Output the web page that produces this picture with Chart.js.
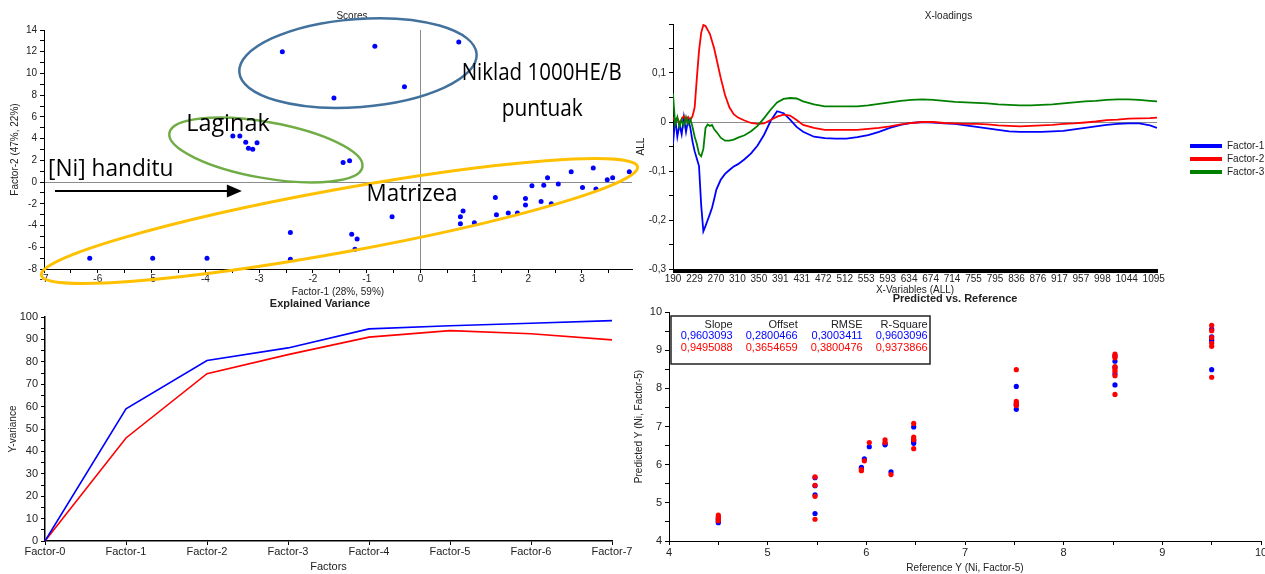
<!DOCTYPE html>
<html>
<head>
<meta charset="utf-8">
<title>PLS Ni</title>
<script src="https://cdn.jsdelivr.net/npm/chart.js@4.4.1/dist/chart.umd.min.js"></script>
<style>
  html, body { margin: 0; padding: 0; background: #fff; overflow: hidden; }
  body { width: 1265px; height: 574px; position: relative; }
  canvas { position: absolute; }
  #scores { left: 0; top: 0; z-index: 2; }
  #loadings { left: 632px; top: 0; z-index: 3; }
  #variance { left: 0; top: 296px; z-index: 1; }
  #predicted { left: 630px; top: 288px; z-index: 1; }
</style>
</head>
<body>
<canvas id="scores" width="704" height="298"></canvas>
<canvas id="loadings" width="633" height="296"></canvas>
<canvas id="variance" width="640" height="278"></canvas>
<canvas id="predicted" width="650" height="286"></canvas>

<script>
// --- Scores (Factor-1 / Factor-2) ---
const scoreF1 = [-2.57, -0.85, 0.71, -0.30, -1.61, -3.49, -3.36, -3.25, -3.04, -3.20, -3.12, -1.44, -1.32,
  -6.15, -4.98, -3.97, -2.42, -2.42, -1.28, -1.18, -1.22, -0.53,
  0.74, 0.79, 0.74, 1.00, 1.39, 1.41, 1.63, 1.80, 1.95, 1.95, 2.07, 2.24, 2.29, 2.36, 2.43, 2.56,
  2.80, 3.01, 3.21, 3.26, 3.47, 3.57, 3.88];
const scoreF2 = [12.0, 12.5, 12.9, 8.78, 7.74, 4.25, 4.25, 3.67, 3.61, 3.12, 3.03, 1.80, 1.96,
  -7.0, -7.0, -7.0, -4.65, -7.1, -4.8, -5.23, -6.18, -3.2,
  -3.19, -2.67, -3.83, -3.74, -1.41, -3.00, -2.85, -2.85, -1.50, -2.12, -0.34, -1.78, -0.28, 0.40, -1.99, -0.18,
  0.95, -0.49, 1.29, -0.64, 0.21, 0.40, 0.95];

// --- X-loadings: x in variable-block units, one value list per factor ---
const loadTickLabels = ['190', '229', '270', '310', '350', '391', '431', '472', '512', '553', '593', '634',
  '674', '714', '755', '795', '836', '876', '917', '957', '998', '1044', '1095'];
const loadTickPos = [0, 0.99, 1.98, 2.97, 3.96, 4.95, 5.94, 6.93, 7.92, 8.91, 9.9, 10.89,
  11.88, 12.87, 13.86, 14.85, 15.84, 16.83, 17.82, 18.81, 19.8, 20.92, 22.17];
const loadPos = [0, 0.1, 0.2, 0.3, 0.4, 0.5, 0.6, 0.7, 0.8, 0.9, 1.0, 1.1, 1.2, 1.3, 1.4, 1.5, 1.6, 1.7, 1.8, 1.9, 2.0,
  2.2, 2.4, 2.6, 2.8, 3.0, 3.3, 3.6, 3.9, 4.2, 4.5, 4.8, 5.1, 5.4, 5.7, 6.0,
  6.5, 7.0, 7.5, 8.0, 8.5, 9.0, 9.5, 10.0, 10.5, 11.0, 11.5, 12.0, 12.5, 13.0, 13.5, 14.0, 14.5, 15.0,
  15.5, 16.0, 16.5, 17.0, 17.5, 18.0, 18.5, 19.0, 19.5, 20.0, 20.5, 21.0, 21.5, 22.0, 22.32];
const loadF1 = [-0.045, 0.008, -0.03, -0.005, -0.025, 0.01, -0.02, 0.005, -0.012, -0.04, -0.06, -0.075, -0.09, -0.17,
  -0.223, -0.212, -0.2, -0.188, -0.175, -0.157, -0.138,
  -0.118, -0.106, -0.098, -0.091, -0.086, -0.076, -0.064, -0.048, -0.026, 0.002, 0.022, 0.018, 0.005, -0.010, -0.020,
  -0.030, -0.033, -0.034, -0.034, -0.031, -0.027, -0.020, -0.012, -0.006, -0.002, 0.000, -0.001, -0.003, -0.004,
  -0.007, -0.010, -0.013, -0.016, -0.019, -0.020, -0.020, -0.020, -0.019, -0.018, -0.015, -0.012, -0.009, -0.006,
  -0.004, -0.003, -0.003, -0.007, -0.012];
const loadF2 = [0.01, 0.0, 0.008, -0.004, 0.006, 0.012, 0.002, 0.01, 0.004, 0.012, 0.03, 0.09, 0.145, 0.182,
  0.198, 0.196, 0.188, 0.18, 0.165, 0.15, 0.13,
  0.09, 0.055, 0.03, 0.016, 0.009, 0.003, -0.002, -0.004, -0.003, 0.004, 0.011, 0.015, 0.013, 0.004, -0.006,
  -0.012, -0.016, -0.016, -0.016, -0.016, -0.014, -0.012, -0.009, -0.005, -0.002, 0.000, 0.000, -0.002, -0.003,
  -0.004, -0.004, -0.005, -0.007, -0.008, -0.009, -0.008, -0.007, -0.006, -0.004, -0.003, -0.001, 0.001, 0.004,
  0.005, 0.007, 0.0075, 0.008, 0.009];
const loadF3 = [0.058, -0.005, 0.01, -0.01, 0.005, -0.008, 0.01, -0.004, 0.006, -0.01, -0.03, -0.045, -0.065, -0.07,
  -0.055, -0.012, -0.005, -0.008, -0.006, -0.015, -0.02,
  -0.032, -0.038, -0.038, -0.036, -0.032, -0.027, -0.019, -0.008, 0.008, 0.025, 0.040, 0.047, 0.049, 0.048, 0.042,
  0.036, 0.032, 0.032, 0.032, 0.032, 0.034, 0.037, 0.040, 0.043, 0.045, 0.046, 0.045, 0.043, 0.041,
  0.040, 0.039, 0.038, 0.036, 0.035, 0.034, 0.034, 0.035, 0.036, 0.038, 0.040, 0.042, 0.043, 0.045,
  0.046, 0.046, 0.045, 0.043, 0.042];

// --- Explained variance ---
const factorNames = ['Factor-0', 'Factor-1', 'Factor-2', 'Factor-3', 'Factor-4', 'Factor-5', 'Factor-6', 'Factor-7'];
const varCalibration = [0, 59, 80.6, 86.2, 94.7, 96.1, 97.2, 98.4];
const varValidation = [0, 46, 74.7, 83.2, 91, 93.9, 92.5, 89.8];

// --- Predicted vs reference ---
const refBlue = [4.5, 4.5, 4.5, 4.5, 5.48, 5.48, 5.48, 5.48, 5.95, 5.95, 5.98, 6.03, 6.19, 6.19, 6.25,
  6.48, 6.48, 6.48, 6.48, 7.52, 7.52, 7.52, 7.52, 8.52, 8.52, 8.52, 8.52, 8.52, 9.5, 9.5, 9.5, 9.5, 9.5];
const predBlue = [4.48, 4.52, 4.57, 4.61, 4.72, 5.21, 5.45, 5.66, 5.90, 5.93, 6.15, 6.47, 6.52, 6.55, 5.81,
  6.99, 6.61, 6.56, 6.65, 8.05, 7.45, 7.60, 7.55, 8.71, 8.38, 8.09, 8.55, 8.85, 9.35, 9.24, 8.49, 9.55, 9.28];
const refRed = [4.5, 4.5, 4.5, 4.5, 5.48, 5.48, 5.48, 5.48, 5.95, 5.95, 5.98, 6.03, 6.19, 6.19, 6.25,
  6.48, 6.48, 6.48, 6.48, 7.52, 7.52, 7.52, 7.52, 8.52, 8.52, 8.52, 8.52, 8.52, 8.52, 8.52, 8.52,
  9.5, 9.5, 9.5, 9.5, 9.5, 9.5];
const predRed = [4.53, 4.58, 4.63, 4.68, 4.57, 5.17, 5.46, 5.68, 5.84, 5.87, 6.10, 6.58, 6.58, 6.65, 5.74,
  7.08, 6.72, 6.65, 6.42, 8.49, 7.66, 7.60, 7.55, 8.90, 8.85, 8.80, 8.57, 8.51, 8.45, 8.33, 7.84,
  9.65, 9.51, 9.33, 9.18, 9.10, 8.29];
const statHeader = ['Slope', 'Offset', 'RMSE', 'R-Square'];
const statBlue = ['0,9603093', '0,2800466', '0,3003411', '0,9603096'];
const statRed = ['0,9495088', '0,3654659', '0,3800476', '0,9373866'];

const FONT = "'Liberation Sans', Arial, sans-serif";
Chart.defaults.font.family = FONT;
Chart.defaults.color = '#222';
Chart.defaults.animation = false;
Chart.defaults.events = [];
Chart.defaults.plugins.legend.display = false;
Chart.defaults.plugins.tooltip.enabled = false;

function stepTicks(min, max, step) {
  const out = [];
  const n = Math.round((max - min) / step);
  for (let i = 0; i <= n; i++) out.push({ value: Math.round((min + i * step) * 10000) / 10000 });
  return out;
}

const isInt = v => Math.abs(v - Math.round(v)) < 1e-6;

// linear axis with minor ticks (blank labels), fixed box size, optional zero line
function linAxis(o) {
  return {
    type: 'linear',
    min: o.min,
    max: o.max,
    afterBuildTicks: s => {
      let t = stepTicks(o.min, o.tickMax ?? o.max, o.step);
      if (o.extraTicks) {
        // drop dense ticks that sit on a labelled one, so nothing is drawn twice
        t = t.filter(k => !o.extraTicks.some(v => Math.abs(v - k.value) < 1e-6))
          .concat(o.extraTicks.map(v => ({ value: v })))
          .sort((a, b) => a.value - b.value);
      }
      s.ticks = t;
    },
    afterFit: s => {
      if (o.width != null) s.width = o.width;
      if (o.height != null) s.height = o.height;
    },
    ticks: { autoSkip: false, maxRotation: 0, padding: o.pad ?? 3, font: { size: o.font ?? 10 }, color: '#222', callback: o.label },
    grid: {
      drawOnChartArea: !!o.zero,
      color: c => (o.zero && c.tick && Math.abs(c.tick.value) < 1e-9) ? '#8c8c8c' : 'rgba(0,0,0,0)',
      tickColor: '#000',
      tickLength: 4,
      lineWidth: 1
    },
    border: { display: true, color: '#000', width: o.border ?? 1 },
    title: { display: true, text: o.title, font: { size: o.titleSize ?? 10 }, color: '#222', padding: { top: o.titlePad, bottom: 0 } }
  };
}

// empty right-hand box: keeps the chart title centred on the whole panel
function spacerAxis(w) {
  return {
    type: 'linear',
    position: 'right',
    display: true,
    afterFit: s => { s.width = w; },
    grid: { display: false },
    ticks: { display: false },
    border: { display: false }
  };
}

function chartTitle(text, size, weight, top, bottom) {
  return { display: true, text, font: { size, weight }, color: '#222', padding: { top, bottom } };
}

// ellipses, labels and arrow on the score plot (centres in data units, radii in px)
const scoreEllipses = [
  { cx: -1.164, cy: 10.96, rx: 119, ry: 44, rot: -4.4, color: '#41719c', width: 2.5 },
  { cx: -2.875, cy: 2.95, rx: 98, ry: 28, rot: 10, color: '#70ad47', width: 2.5 },
  { cx: -1.508, cy: -3.58, rx: 303, ry: 31.5, rot: -10.3, color: '#ffc000', width: 3 }
];
const scoreNotes = [
  { text: 'Niklad 1000HE/B', x: 0.763, y: 9.40, w: 160 },
  { text: 'puntuak', x: 1.508, y: 6.07, w: 81 },
  { text: 'Laginak', x: -4.357, y: 4.70, w: 83.5 },
  { text: '[Ni] handitu', x: -6.926, y: 0.56, w: 125.5 },
  { text: 'Matrizea', x: -1.005, y: -1.77, w: 91 }
];
const scoreArrow = { x0: -6.796, x1: -3.322, y: -0.82 };

const scoreMarks = {
  id: 'scoreMarks',
  afterDatasetsDraw(chart) {
    const { ctx, scales: { x, y } } = chart;
    ctx.save();
    scoreEllipses.forEach(e => {
      ctx.beginPath();
      ctx.ellipse(x.getPixelForValue(e.cx), y.getPixelForValue(e.cy), e.rx, e.ry, e.rot * Math.PI / 180, 0, Math.PI * 2);
      ctx.strokeStyle = e.color;
      ctx.lineWidth = e.width;
      ctx.stroke();
    });
    ctx.fillStyle = '#000';
    ctx.font = "23px 'Open Sans', sans-serif";
    ctx.textBaseline = 'alphabetic';
    ctx.textAlign = 'left';
    scoreNotes.forEach(n => {
      const w = ctx.measureText(n.text).width;
      ctx.save();
      ctx.translate(x.getPixelForValue(n.x), y.getPixelForValue(n.y));
      ctx.scale(n.w / w, 1);
      ctx.fillText(n.text, 0, 0);
      ctx.restore();
    });
    const ax0 = x.getPixelForValue(scoreArrow.x0);
    const ax1 = x.getPixelForValue(scoreArrow.x1);
    const ay = y.getPixelForValue(scoreArrow.y);
    ctx.strokeStyle = '#000';
    ctx.lineWidth = 2;
    ctx.beginPath();
    ctx.moveTo(ax0, ay);
    ctx.lineTo(ax1 - 12, ay);
    ctx.stroke();
    ctx.beginPath();
    ctx.moveTo(ax1, ay);
    ctx.lineTo(ax1 - 15, ay - 6.5);
    ctx.lineTo(ax1 - 15, ay + 6.5);
    ctx.closePath();
    ctx.fill();
    ctx.restore();
  }
};

new Chart(document.getElementById('scores'), {
  type: 'scatter',
  data: {
    datasets: [{
      data: scoreF1.map((v, i) => ({ x: v, y: scoreF2[i] })),
      pointRadius: 2.5,
      backgroundColor: '#0000ff',
      borderWidth: 0
    }]
  },
  options: {
    responsive: false,
    layout: { padding: 0 },
    plugins: { title: chartTitle('Scores', 10, 'normal', 10, 8) },
    scales: {
      x: linAxis({ min: -7, max: 3.93, tickMax: 3.5, step: 0.5, zero: true, height: 29, pad: 0,
        label: v => isInt(v) ? String(Math.round(v)) : '', title: 'Factor-1 (28%, 59%)', titlePad: 1 }),
      y: linAxis({ min: -8, max: 14, step: 1, zero: true, width: 44,
        label: v => (isInt(v) && Math.round(v) % 2 === 0) ? String(Math.round(v)) : '', title: 'Factor-2 (47%, 22%)', titlePad: 9 }),
      right: spacerAxis(72)
    }
  },
  plugins: [scoreMarks]
});

// --- X-loadings ---
const loadColors = ['#0000ff', '#ff0000', '#008000'];
const loadSeries = [loadF1, loadF2, loadF3];

const sideLegend = {
  id: 'sideLegend',
  afterDraw(chart) {
    const { ctx, chartArea } = chart;
    ctx.save();
    ctx.font = '10px ' + FONT;
    ctx.textBaseline = 'middle';
    ctx.textAlign = 'left';
    chart.data.datasets.forEach((ds, i) => {
      const lx = chartArea.right + 33;
      const ly = chartArea.top + 122 + i * 13;
      ctx.fillStyle = ds.borderColor;
      ctx.fillRect(lx, ly - 2, 32, 4);
      ctx.fillStyle = '#222';
      ctx.fillText(ds.label, lx + 37, ly);
    });
    ctx.restore();
  }
};

const tickLabelAt = v => {
  const k = loadTickPos.findIndex(p => Math.abs(p - v) < 1e-6);
  return k >= 0 ? loadTickLabels[k] : '';
};

new Chart(document.getElementById('loadings'), {
  type: 'line',
  data: {
    datasets: loadSeries.map((s, k) => ({
      label: 'Factor-' + (k + 1),
      data: s.map((v, i) => ({ x: loadPos[i], y: v })),
      borderColor: loadColors[k],
      borderWidth: 1.8,
      pointRadius: 0,
      tension: 0,
      order: 3 - k
    }))
  },
  options: {
    responsive: false,
    layout: { padding: 0 },
    plugins: { title: chartTitle('X-loadings', 10, 'normal', 10, 2) },
    scales: {
      x: linAxis({ min: 0, max: 22.32, step: 0.04, height: 27, pad: 0, extraTicks: loadTickPos,
        label: tickLabelAt, title: 'X-Variables (ALL)', titlePad: 0 }),
      y: linAxis({ min: -0.3, max: 0.2, step: 0.05, zero: true, width: 41,
        label: v => {
          const t = v * 10;
          if (!isInt(t) || v > 0.15) return '';
          const r = Math.round(t);
          return r === 0 ? '0' : (r / 10).toFixed(1).replace('.', ',');
        },
        title: 'ALL', titlePad: 3 }),
      right: spacerAxis(108)
    }
  },
  plugins: [sideLegend]
});

// --- Explained variance ---
new Chart(document.getElementById('variance'), {
  type: 'line',
  data: {
    labels: factorNames,
    datasets: [
      { data: varCalibration, borderColor: '#0000ff', borderWidth: 1.6, pointRadius: 0, tension: 0 },
      { data: varValidation, borderColor: '#ff0000', borderWidth: 1.6, pointRadius: 0, tension: 0 }
    ]
  },
  options: {
    responsive: false,
    layout: { padding: 0 },
    plugins: { title: chartTitle('Explained Variance', 11, 'bold', 1.4, 6.4) },
    scales: {
      x: {
        type: 'category',
        offset: false,
        afterFit: s => { s.height = 33; },
        ticks: { autoSkip: false, maxRotation: 0, padding: 0, font: { size: 11 }, color: '#222' },
        grid: { drawOnChartArea: false, offset: false, tickColor: '#000', tickLength: 4 },
        border: { display: true, color: '#000', width: 1.5 },
        title: { display: true, text: 'Factors', font: { size: 11 }, color: '#222', padding: { top: 4.4, bottom: 0 } }
      },
      y: linAxis({ min: 0, max: 100, step: 5, width: 45, font: 11, border: 1.5,
        label: v => (Math.round(v) % 10 === 0) ? String(Math.round(v)) : '', title: 'Y-variance', titlePad: 7 }),
      right: spacerAxis(28)
    }
  }
});

// --- Predicted vs reference ---
const statBox = {
  id: 'statBox',
  afterDatasetsDraw(chart) {
    const { ctx, chartArea } = chart;
    const bx = chartArea.left + 2;
    const by = chartArea.top + 4;
    ctx.save();
    ctx.fillStyle = '#fff';
    ctx.fillRect(bx, by, 259, 48);
    ctx.strokeStyle = '#222';
    ctx.lineWidth = 1.5;
    ctx.strokeRect(bx, by, 259, 48);
    ctx.font = '11px ' + FONT;
    ctx.textAlign = 'right';
    ctx.textBaseline = 'middle';
    [[statHeader, '#222', 8.5], [statBlue, '#0000ff', 20], [statRed, '#ff0000', 32]].forEach(([row, col, dy]) => {
      ctx.fillStyle = col;
      row.forEach((t, i) => ctx.fillText(t, bx + 61.7 + i * 65, by + dy));
    });
    ctx.restore();
  }
};

new Chart(document.getElementById('predicted'), {
  type: 'scatter',
  data: {
    datasets: [
      { data: refBlue.map((v, i) => ({ x: v, y: predBlue[i] })), backgroundColor: '#0000ff', pointRadius: 2.6, borderWidth: 0, order: 2 },
      { data: refRed.map((v, i) => ({ x: v, y: predRed[i] })), backgroundColor: '#ff0000', pointRadius: 2.6, borderWidth: 0, order: 1 }
    ]
  },
  options: {
    responsive: false,
    layout: { padding: 0 },
    plugins: { title: chartTitle('Predicted vs. Reference', 11, 'bold', 4.4, 6.4) },
    scales: {
      x: linAxis({ min: 4, max: 10, step: 0.5, height: 33, pad: 1, font: 11,
        label: v => isInt(v) ? String(Math.round(v)) : '', title: 'Reference Y (Ni, Factor-5)', titlePad: 1 }),
      y: linAxis({ min: 4, max: 10, step: 0.5, width: 39, font: 11,
        label: v => isInt(v) ? String(Math.round(v)) : '', title: 'Predicted Y (Ni, Factor-5)', titlePad: 3 }),
      right: spacerAxis(19)
    }
  },
  plugins: [statBox]
});
</script>
</body>
</html>
